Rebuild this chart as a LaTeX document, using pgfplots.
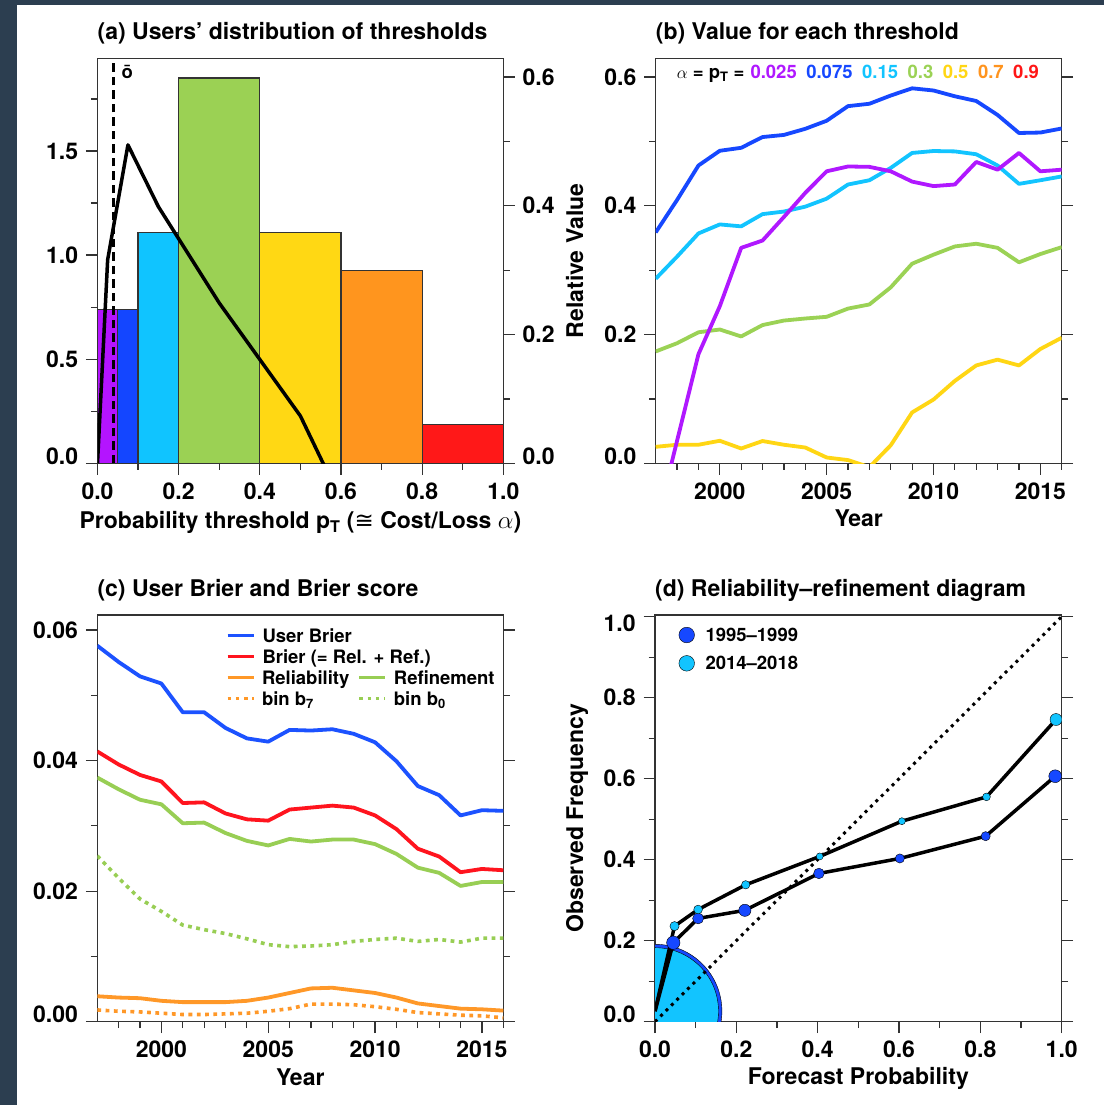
\documentclass[border=0pt]{standalone}
\usepackage{pgfplots}
\pgfplotsset{compat=1.18}
\usepackage{pgfplotstable}
\usepackage{fontspec}
\setmainfont{TeX Gyre Heros}
\newfontfamily\djv{DejaVu Sans}

\definecolor{bgdark}{RGB}{44,62,80}
\definecolor{bpurple}{RGB}{180,20,255}
\definecolor{bblue}{RGB}{20,70,255}
\definecolor{bcyan}{RGB}{16,196,255}
\definecolor{bgreen}{RGB}{155,209,84}
\definecolor{byellow}{RGB}{255,216,20}
\definecolor{borange}{RGB}{255,149,30}
\definecolor{bred}{RGB}{255,24,24}
\definecolor{cpurple}{RGB}{176,24,255}
\definecolor{cblue}{RGB}{22,72,255}
\definecolor{ccyan}{RGB}{18,196,255}
\definecolor{cgreen}{RGB}{155,210,85}
\definecolor{cyellow}{RGB}{255,214,20}
\definecolor{corange}{RGB}{255,148,30}
\definecolor{cred}{RGB}{255,22,22}
\definecolor{ublue}{RGB}{28,82,255}
\definecolor{ured}{RGB}{255,20,30}
\definecolor{uorange}{RGB}{255,152,40}
\definecolor{ugreen}{RGB}{152,206,84}

\newcommand{\up}[1]{\raisebox{7pt}[\height][\depth]{#1}}
\newcommand{\dn}[1]{\raisebox{-7pt}[\height][\depth]{#1}}
\newcommand{\fa}{\fontsize{23}{27}\selectfont\bfseries}
\newcommand{\fl}{\fontsize{18.5}{22}\selectfont\bfseries}

\pgfplotstableread{
year purple blue cyan green yellow
1997 -0.100 0.3586 0.2867 0.1737 0.0256
1998 0.035 0.409 0.321 0.1865 0.0288
1999 0.1694 0.4625 0.357 0.2035 0.0288
2000 0.244 0.4854 0.371 0.2078 0.035
2001 0.3346 0.490 0.368 0.197 0.023
2002 0.346 0.5067 0.387 0.2147 0.0346
2003 0.3826 0.510 0.391 0.2217 0.0288
2004 0.420 0.5195 0.3986 0.2249 0.0245
2005 0.4535 0.532 0.411 0.2275 0.009
2006 0.461 0.5547 0.433 0.2403 0.005
2007 0.4604 0.5584 0.4396 0.2467 -0.006
2008 0.4535 0.5712 0.4588 0.2733 0.028
2009 0.4375 0.5824 0.482 0.310 0.079
2010 0.4305 0.579 0.485 0.324 0.099
2011 0.433 0.570 0.4844 0.3368 0.128
2012 0.468 0.5627 0.480 0.341 0.152
2013 0.456 0.541 0.4625 0.3346 0.161
2014 0.482 0.513 0.434 0.3122 0.152
2015 0.4535 0.5137 0.4396 0.325 0.1775
2016 0.456 0.520 0.4455 0.3357 0.195
}\tabb

\pgfplotstableread{
year ub br rel ref bseven bzero
1997 0.0576 0.0414 0.0039 0.0374 0.0018 0.0254
1998 0.0551 0.0394 0.0037 0.0356 0.0016 0.0220
1999 0.0529 0.0378 0.0036 0.0340 0.0015 0.0188
2000 0.0518 0.0368 0.0032 0.0333 0.0013 0.0169
2001 0.0474 0.0335 0.0030 0.0304 0.0011 0.0148
2002 0.0474 0.0336 0.0030 0.0305 0.0011 0.0141
2003 0.0450 0.0319 0.0030 0.0289 0.0012 0.0135
2004 0.0434 0.0310 0.0032 0.0277 0.0013 0.0127
2005 0.0429 0.0308 0.0037 0.0270 0.0016 0.0118
2006 0.0447 0.0325 0.0044 0.0280 0.0020 0.0115
2007 0.0446 0.0328 0.0051 0.0276 0.0027 0.0116
2008 0.0448 0.0331 0.0052 0.0279 0.0027 0.0118
2009 0.0441 0.0328 0.0048 0.0279 0.0026 0.0123
2010 0.0428 0.0316 0.0044 0.0272 0.0023 0.0126
2011 0.0399 0.0295 0.0037 0.0257 0.0019 0.0128
2012 0.0361 0.0265 0.0028 0.0236 0.0014 0.0123
2013 0.0347 0.0253 0.0024 0.0228 0.0012 0.0126
2014 0.0316 0.0229 0.0020 0.0208 0.0010 0.0122
2015 0.0324 0.0234 0.0019 0.0214 0.0009 0.0128
2016 0.0323 0.0232 0.0017 0.0214 0.0006 0.0128
}\tabc

\pgfplotstableread{
x y
0.000 0.026
0.045 0.195
0.106 0.255
0.221 0.275
0.403 0.366
0.602 0.403
0.813 0.458
0.984 0.606
}\tabdold

\pgfplotstableread{
x y
0.000 0.026
0.048 0.236
0.106 0.277
0.223 0.338
0.405 0.408
0.607 0.495
0.815 0.555
0.986 0.746
}\tabdnew

\pgfplotsset{
  panel/.style={
    scale only axis, anchor=south west,
    tick align=outside,
    major tick length=11.5pt, minor tick length=6.5pt,
    xtick pos=left, ytick pos=both,
    every tick/.style={black!80, line width=1.2pt},
    axis line style={black!80, line width=1.3pt},
    tick label style={font=\fa, inner sep=2pt},
    xticklabel shift=5.7pt, yticklabel shift=5.7pt,
    /pgf/number format/assume math mode=true,
    label style={font=\fa, inner sep=1pt},
    title style={font=\fa, at={(axis description cs:0,1)}, anchor=base west, yshift=12.5pt, inner sep=0pt},
  },
  dotline/.style={line width=3.6pt, dash pattern=on 3.8pt off 4.5pt},
  dot/.style={only marks, mark=*, mark size=#1, forget plot},
}

\begin{document}
\begin{tikzpicture}
\useasboundingbox (0,0) rectangle (1104pt,-1105pt);
\fill[bgdark] (0,0) rectangle (1104pt,-1105pt);
\fill[white] (17.3pt,-5.3pt) rectangle (1104pt,-1105pt);

% ---------------- (a) ----------------
\begin{axis}[panel, at={(97.5pt,-463.3pt)}, width=405.8pt, height=405pt,
  xmin=0, xmax=1, ymin=0, ymax=1.945,
  ytick pos=left,
  xtick={0,0.2,0.4,0.6,0.8,1}, xticklabels={0.0,0.2,0.4,0.6,0.8,1.0},
  minor xtick={0.1,0.3,0.5,0.7,0.9},
  ytick={0,0.5,1,1.5}, yticklabels={\up{0.0},0.5,1.0,1.5},
  minor ytick={0.25,0.75,1.25,1.75},
  title={(a) Users’ distribution of thresholds},
  xlabel={Probability threshold p\textsubscript{T} ({\djv\mdseries ≅} Cost/Loss $\alpha$)},
  xlabel style={at={(axis description cs:0.5,0)}, anchor=base, yshift=-65pt},
]
\addplot[fill=bpurple, draw=black!80, line width=1.2pt] coordinates {(0,0.74) (0.05,0.74)} \closedcycle;
\addplot[fill=bblue, draw=black!80, line width=1.2pt] coordinates {(0.05,0.74) (0.1,0.74)} \closedcycle;
\addplot[fill=bcyan, draw=black!80, line width=1.2pt] coordinates {(0.1,1.11) (0.2,1.11)} \closedcycle;
\addplot[fill=bgreen, draw=black!80, line width=1.2pt] coordinates {(0.2,1.85) (0.4,1.85)} \closedcycle;
\addplot[fill=byellow, draw=black!80, line width=1.2pt] coordinates {(0.4,1.11) (0.6,1.11)} \closedcycle;
\addplot[fill=borange, draw=black!80, line width=1.2pt] coordinates {(0.6,0.925) (0.8,0.925)} \closedcycle;
\addplot[fill=bred, draw=black!80, line width=1.2pt] coordinates {(0.8,0.185) (1.0,0.185)} \closedcycle;
\addplot[black, line width=3pt, dash pattern=on 8.5pt off 5pt] coordinates {(0.039,0) (0.039,1.945)};
\node[font=\fl, anchor=base, inner sep=0pt] at (rel axis cs:0.0734,0.951) {ō};
\end{axis}
\begin{axis}[panel, at={(97.5pt,-463.3pt)}, width=405.8pt, height=405pt,
  xmin=0, xmax=1, ymin=0, ymax=0.629,
  hide x axis, ytick pos=right, yticklabel pos=right,
  ytick={0,0.2,0.4,0.6}, yticklabels={\up{0.0},0.2,0.4,0.6},
  minor ytick={0.1,0.3,0.5},
]
\addplot[black, line width=3.5pt, line join=round] coordinates {(0,0) (0.025,0.316) (0.075,0.4945) (0.15,0.3986) (0.3,0.249) (0.5,0.0735) (0.7,-0.189)};
\end{axis}

% ---------------- (b) ----------------
\begin{axis}[panel, at={(655.7pt,-463.3pt)}, width=406pt, height=405pt,
  xmin=1997, xmax=2016, ymin=0, ymax=0.629,
  xtick={2000,2005,2010,2015}, xticklabels={2000,2005,2010,2015},
  minor xtick={1998,1999,2001,2002,2003,2004,2006,2007,2008,2009,2011,2012,2013,2014,2016},
  ytick={0,0.2,0.4,0.6}, yticklabels={\up{0.0},0.2,0.4,0.6},
  minor ytick={0.1,0.3,0.5},
  title={(b) Value for each threshold},
  xlabel={Year}, xlabel style={at={(axis description cs:0.5,0)}, anchor=base, yshift=-63.3pt},
  ylabel={Relative Value}, ylabel style={at={(axis description cs:-0.179,0.5)}, anchor=base},
]
\addplot[cyellow, line width=3.8pt, line join=round] table[x=year, y=yellow] {\tabb};
\addplot[cgreen, line width=3.8pt, line join=round] table[x=year, y=green] {\tabb};
\addplot[ccyan, line width=3.8pt, line join=round] table[x=year, y=cyan] {\tabb};
\addplot[cblue, line width=3.8pt, line join=round] table[x=year, y=blue] {\tabb};
\addplot[cpurple, line width=3.8pt, line join=round] table[x=year, y=purple] {\tabb};
\node[anchor=base west, inner sep=0pt, font=\fl] at (rel axis cs:0.0517,0.951)
  {$\alpha$ = p\textsubscript{T} =\hspace{6pt}\textcolor{cpurple}{0.025}\hspace{9.5pt}\textcolor{cblue}{0.075}\hspace{9.5pt}\textcolor{ccyan}{0.15}\hspace{9.5pt}\textcolor{cgreen}{0.3}\hspace{9.5pt}\textcolor{cyellow}{0.5}\hspace{9.5pt}\textcolor{corange}{0.7}\hspace{9.5pt}\textcolor{cred}{0.9}};
\end{axis}

% ---------------- (c) ----------------
\begin{axis}[panel, at={(97.3pt,-1021.7pt)}, width=406pt, height=406.7pt,
  xmin=1997, xmax=2016, ymin=0, ymax=0.0623,
  xtick={2000,2005,2010,2015}, xticklabels={2000,2005,2010,2015},
  minor xtick={1998,1999,2001,2002,2003,2004,2006,2007,2008,2009,2011,2012,2013,2014,2016},
  ytick={0,0.02,0.04,0.06}, yticklabels={\up{0.00},0.02,0.04,0.06},
  minor ytick={0.01,0.03,0.05},
  scaled y ticks=false,
  title={(c) User Brier and Brier score},
  xlabel={Year}, xlabel style={at={(axis description cs:0.5,0)}, anchor=base, yshift=-63.3pt},
  legend columns=2,
  legend cell align=left,
  legend image code/.code={\draw[#1] (0pt,0pt) -- (26pt,0pt);},
  legend style={at={(0.317,0.975)}, anchor=north west, draw=none, fill=none, font=\fl,
    inner sep=0pt, outer sep=0pt, row sep=0pt, column sep=0pt,
    nodes={inner sep=0pt, text height=17pt, text depth=4pt},
    /tikz/every odd column/.append style={column sep=7pt},
    /tikz/every even column/.append style={column sep=8.5pt}},
]
\addlegendimage{ublue, line width=3pt}\addlegendentry{\makebox[0pt][l]{User Brier}}
\addlegendimage{empty legend}\addlegendentry{}
\addlegendimage{ured, line width=3pt}\addlegendentry{\makebox[0pt][l]{Brier (= Rel. + Ref.)}}
\addlegendimage{empty legend}\addlegendentry{}
\addlegendimage{uorange, line width=3pt}\addlegendentry{Reliability}
\addlegendimage{ugreen, line width=3pt}\addlegendentry{Refinement}
\addlegendimage{uorange, line width=3pt, dash pattern=on 3.5pt off 4.8pt}\addlegendentry{bin b\textsubscript{7}}
\addlegendimage{ugreen, line width=3pt, dash pattern=on 3.5pt off 4.8pt}\addlegendentry{bin b\textsubscript{0}}
\addplot[uorange, dotline, forget plot] table[x=year, y=bseven] {\tabc};
\addplot[ugreen, dotline, forget plot] table[x=year, y=bzero] {\tabc};
\addplot[uorange, line width=3.8pt, line join=round, forget plot] table[x=year, y=rel] {\tabc};
\addplot[ugreen, line width=3.8pt, line join=round, forget plot] table[x=year, y=ref] {\tabc};
\addplot[ured, line width=3.8pt, line join=round, forget plot] table[x=year, y=br] {\tabc};
\addplot[ublue, line width=3.8pt, line join=round, forget plot] table[x=year, y=ub] {\tabc};
\end{axis}

% ---------------- (d) ----------------
\begin{axis}[panel, at={(655pt,-1021.7pt)}, width=406.7pt, height=406.7pt,
  xmin=0, xmax=1, ymin=0, ymax=1.004,
  clip marker paths=true,
  xtick={0,0.2,0.4,0.6,0.8,1}, xticklabels={0.0,0.2,0.4,0.6,0.8,1.0},
  minor xtick={0.1,0.3,0.5,0.7,0.9},
  ytick={0,0.2,0.4,0.6,0.8,1}, yticklabels={\up{0.0},0.2,0.4,0.6,0.8,\dn{1.0}},
  minor ytick={0.1,0.3,0.5,0.7,0.9},
  title={(d) Reliability–refinement diagram},
  xlabel={Forecast Probability}, xlabel style={at={(axis description cs:0.5,0)}, anchor=base, yshift=-63pt},
  ylabel={Observed Frequency}, ylabel style={at={(axis description cs:-0.177,0.5)}, anchor=base},
  legend cell align=left,
  legend style={at={(0.0588,0.9856)}, anchor=north west, draw=none, fill=none, font=\fl,
    inner sep=0pt, outer sep=0pt, row sep=0pt, column sep=0pt,
    nodes={inner sep=0pt, text height=20.75pt, text depth=7.55pt},
    /tikz/every odd column/.append style={column sep=11pt}},
]
\addlegendimage{only marks, mark=*, mark size=7.8pt, mark options={fill=cblue, draw=none}}\addlegendentry{1995–1999}
\addlegendimage{only marks, mark=*, mark size=7.8pt, mark options={fill=ccyan, draw=none}}\addlegendentry{2014–2018}
\addplot[dot=66.9pt, mark options={fill=cblue, draw=none}] coordinates {(0,0.026)};
\addplot[dot=63.5pt, mark options={fill=ccyan, draw=none}] coordinates {(0,0.026)};
\addplot[black, line width=3pt, dash pattern=on 3pt off 4.6pt, forget plot] coordinates {(0,0) (1,1)};
\addplot[black, line width=3.5pt, line join=round, forget plot] table[x=x, y=y] {\tabdnew};
\addplot[black, line width=3.5pt, line join=round, forget plot] table[x=x, y=y] {\tabdold};
% 1995-1999 markers
\addplot[dot=6.7pt, mark options={fill=cblue, draw=none}] coordinates {(0.045,0.195)};
\addplot[dot=5.5pt, mark options={fill=cblue, draw=none}] coordinates {(0.106,0.255)};
\addplot[dot=6.1pt, mark options={fill=cblue, draw=none}] coordinates {(0.221,0.275)};
\addplot[dot=5.3pt, mark options={fill=cblue, draw=none}] coordinates {(0.403,0.366)};
\addplot[dot=4.6pt, mark options={fill=cblue, draw=none}] coordinates {(0.602,0.403)};
\addplot[dot=4.6pt, mark options={fill=cblue, draw=none}] coordinates {(0.813,0.458)};
\addplot[dot=6.4pt, mark options={fill=cblue, draw=none}] coordinates {(0.984,0.606)};
% 2014-2018 markers
\addplot[dot=4.6pt, mark options={fill=ccyan, draw=none}] coordinates {(0.048,0.236)};
\addplot[dot=4.4pt, mark options={fill=ccyan, draw=none}] coordinates {(0.106,0.277)};
\addplot[dot=4.2pt, mark options={fill=ccyan, draw=none}] coordinates {(0.223,0.338)};
\addplot[dot=3.5pt, mark options={fill=ccyan, draw=none}] coordinates {(0.405,0.408)};
\addplot[dot=3.5pt, mark options={fill=ccyan, draw=none}] coordinates {(0.607,0.495)};
\addplot[dot=3.9pt, mark options={fill=ccyan, draw=none}] coordinates {(0.815,0.555)};
\addplot[dot=6.0pt, mark options={fill=ccyan, draw=none}] coordinates {(0.986,0.746)};
\end{axis}
\end{tikzpicture}
\end{document}
